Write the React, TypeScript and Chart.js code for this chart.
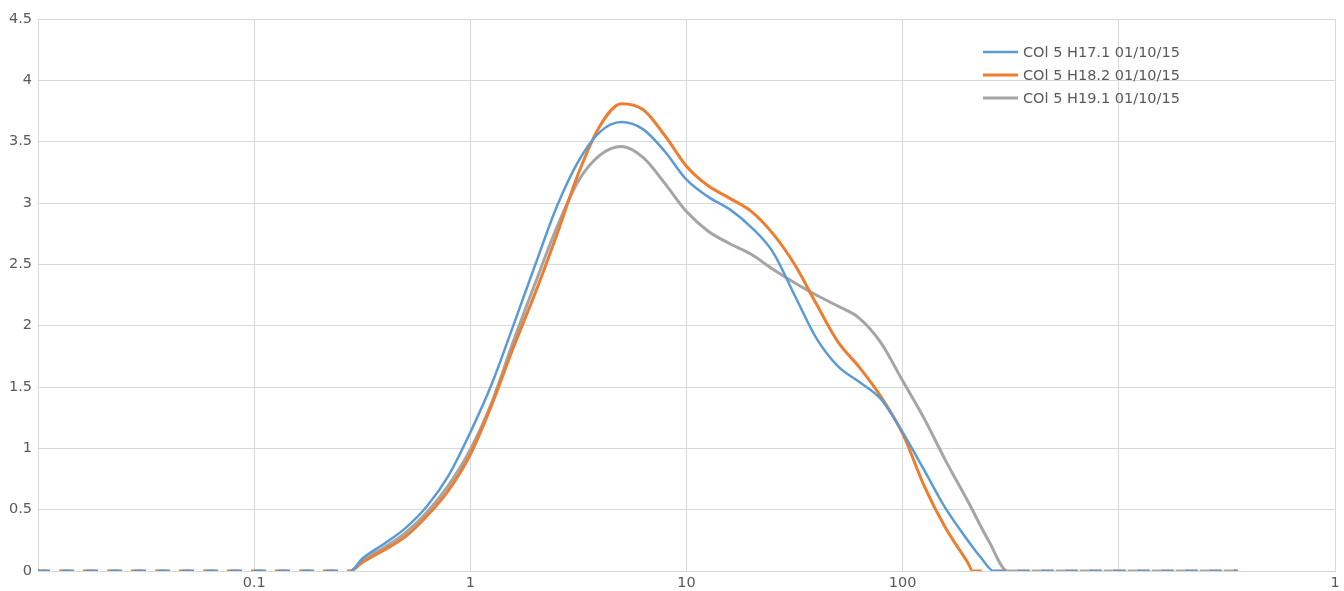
import { useEffect, useRef } from 'react';
import { Chart, registerables } from 'chart.js';

Chart.register(...registerables);

// Particle size (µm) – shared log grid up to 200
const baseSizes = [
  0.01, 0.0126, 0.0158, 0.02, 0.0251, 0.0316, 0.0398, 0.0501, 0.0631, 0.0794,
  0.1, 0.126, 0.158, 0.2, 0.251, 0.278, 0.316, 0.398, 0.501, 0.631, 0.794,
  1, 1.26, 1.58, 2, 2.51, 3.16, 3.98, 5.01, 6.31, 7.94,
  10, 12.6, 15.8, 20, 25.1, 31.6, 39.8, 50.1, 63.1, 79.4,
  100, 126, 158, 200,
];
// zero tail shared by all series
const tailSizes = [398, 501, 631, 794, 1000, 1260, 1580, 2000, 2510, 3160, 3560];
const tailValues = [0, 0, 0, 0, 0, 0, 0, 0, 0, 0, 0];

const h171 = [
  0, 0, 0, 0, 0, 0, 0, 0, 0, 0,
  0, 0, 0, 0, 0, 0, 0.1, 0.22, 0.35, 0.53, 0.78,
  1.13, 1.53, 2.0, 2.5, 2.97, 3.34, 3.58, 3.66, 3.6, 3.42,
  3.19, 3.05, 2.95, 2.8, 2.6, 2.25, 1.9, 1.67, 1.54, 1.4,
  1.13, 0.82, 0.51, 0.25,
];
const h171EndSizes = [230, 264, 306];
const h171EndValues = [0.11, 0, 0];

const h182 = [
  0, 0, 0, 0, 0, 0, 0, 0, 0, 0,
  0, 0, 0, 0, 0, 0, 0.07, 0.17, 0.28, 0.45, 0.66,
  0.95, 1.36, 1.82, 2.27, 2.74, 3.24, 3.63, 3.81, 3.76, 3.55,
  3.3, 3.14, 3.04, 2.93, 2.75, 2.5, 2.18, 1.87, 1.66, 1.42,
  1.12, 0.69, 0.35, 0.07,
];
const h182EndSizes = [211, 251, 306];
const h182EndValues = [0, 0, 0];

const h191 = [
  0, 0, 0, 0, 0, 0, 0, 0, 0, 0,
  0, 0, 0, 0, 0, 0, 0.08, 0.19, 0.31, 0.48, 0.7,
  0.99, 1.38, 1.87, 2.35, 2.8, 3.18, 3.39, 3.46, 3.37, 3.16,
  2.93, 2.77, 2.67, 2.58, 2.46, 2.35, 2.25, 2.16, 2.06, 1.86,
  1.55, 1.24, 0.9, 0.57,
];
const h191EndSizes = [251, 306];
const h191EndValues = [0.24, 0];

const seriesLabels = ['COl 5 H17.1 01/10/15', 'COl 5 H18.2 01/10/15', 'COl 5 H19.1 01/10/15'];
const seriesColors = ['#5B9BD5', '#ED7D31', '#A5A5A5'];
const seriesWidths = [2.5, 3, 3];

const xTickValues = [0.01, 0.1, 1, 10, 100, 1000, 10000];
const xTickLabels = ['', '0.1', '1', '10', '100', '', '1'];

const yMin = 0;
const yMax = 4.5;
const yStep = 0.5;

const FONT = 'DejaVu Sans';
const TEXT = '#595959';
const GRID = '#d9d9d9';

const legendPlugin = {
  id: 'insideLegend',
  afterDatasetsDraw(chart: any) {
    const { ctx, chartArea } = chart;
    const x0 = chartArea.right - 352;
    const y0 = chartArea.top + 33;
    ctx.save();
    ctx.font = `14.5px "${FONT}"`;
    ctx.textBaseline = 'middle';
    ctx.textAlign = 'left';
    chart.data.datasets.forEach((ds: any, i: number) => {
      const y = y0 + i * 23;
      ctx.strokeStyle = ds.borderColor;
      ctx.lineWidth = ds.borderWidth;
      ctx.setLineDash([]);
      ctx.beginPath();
      ctx.moveTo(x0, y);
      ctx.lineTo(x0 + 35, y);
      ctx.stroke();
      ctx.fillStyle = TEXT;
      ctx.fillText(ds.label, x0 + 40, y + 1);
    });
    ctx.restore();
  },
};

function toPoints(xs: number[], ys: number[]) {
  return xs.map((x, i) => ({ x, y: ys[i] }));
}

export default function App() {
  const ref = useRef<HTMLCanvasElement | null>(null);

  useEffect(() => {
    document.body.style.margin = '0';
    const canvas = ref.current;
    if (!canvas) return;
    const series = [
      [...toPoints(baseSizes, h171), ...toPoints(h171EndSizes, h171EndValues), ...toPoints(tailSizes, tailValues)],
      [...toPoints(baseSizes, h182), ...toPoints(h182EndSizes, h182EndValues), ...toPoints(tailSizes, tailValues)],
      [...toPoints(baseSizes, h191), ...toPoints(h191EndSizes, h191EndValues), ...toPoints(tailSizes, tailValues)],
    ];
    const chart = new Chart(canvas, {
      type: 'line',
      data: {
        datasets: series.map((pts, i) => ({
          label: seriesLabels[i],
          data: pts,
          borderColor: seriesColors[i],
          backgroundColor: seriesColors[i],
          borderWidth: seriesWidths[i],
          pointRadius: 0,
          fill: false,
          cubicInterpolationMode: 'monotone' as const,
          borderDashOffset: i === 1 ? 3 : 0,
          segment: {
            borderDash: (c: any) =>
              c.p0.parsed.y === 0 && c.p1.parsed.y === 0 ? [12, 12] : undefined,
          },
        })),
      },
      options: {
        responsive: false,
        animation: false,
        layout: { autoPadding: false, padding: { left: 0, right: 9, top: 19, bottom: 0 } },
        plugins: { legend: { display: false }, tooltip: { enabled: false } },
        scales: {
          x: {
            type: 'logarithmic',
            min: xTickValues[0],
            max: xTickValues[xTickValues.length - 1],
            afterBuildTicks: (s: any) => {
              s.ticks = xTickValues.map((v) => ({ value: v }));
            },
            afterFit: (s: any) => {
              s.height = 20;
            },
            ticks: {
              autoSkip: false,
              maxRotation: 0,
              padding: 4,
              color: TEXT,
              font: { family: FONT, size: 14.5 },
              callback: (_v: any, i: number) => xTickLabels[i],
            },
            grid: { color: GRID, drawTicks: false },
            border: { color: GRID },
          },
          y: {
            min: yMin,
            max: yMax,
            afterFit: (s: any) => {
              s.width = 38;
            },
            ticks: {
              stepSize: yStep,
              padding: 6,
              color: TEXT,
              font: { family: FONT, size: 14.5 },
              callback: (v: any) => String(Math.round(Number(v) * 10) / 10),
            },
            grid: { color: GRID, drawTicks: false },
            border: { color: GRID },
          },
        },
      },
      plugins: [legendPlugin],
    });
    return () => chart.destroy();
  }, []);

  return (
    <div style={{ width: 1344, height: 591, overflow: 'hidden' }}>
      <canvas ref={ref} width={1344} height={591} style={{ display: 'block' }} />
    </div>
  );
}
